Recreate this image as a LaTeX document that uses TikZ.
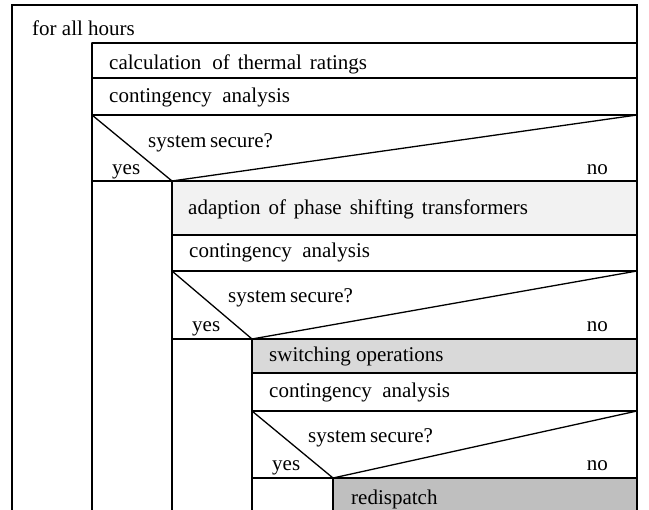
\documentclass[tikz,border=0pt]{standalone}
\usepackage{fontspec}
\setmainfont{Liberation Serif}
\usepackage{tikz}
\usepackage{tkz-euclide}
\usepackage{xcolor}
\definecolor{phaseshade}{HTML}{F2F2F2}
\definecolor{switchshade}{HTML}{D9D9D9}
\definecolor{redispshade}{HTML}{BFBFBF}

\begin{document}
\begin{tikzpicture}[x=1pt,y=-1pt,
    rule/.style={line width=1.3pt,line cap=round,line join=miter},
    txt/.style={anchor=base west,inner sep=0pt,font=\fontsize{21}{25}\selectfont},
    txtr/.style={txt,anchor=base east}]
    \useasboundingbox (0,0) rectangle (649,510);
    \tkzDefPoints{12/5/O1,637/5/O2,12/510/O3,637/510/O4}
    \tkzDefPoints{92/43/A0,92/78/A1,92/115/A2,92/181/A3,92/510/A4}
    \tkzDefPoints{172/181/B0,172/235/B1,172/271/B2,172/339/B3,172/510/B4}
    \tkzDefPoints{252/339/C0,252/373/C1,252/411/C2,252/478/C3,252/510/C4}
    \tkzDefPoints{333/478/D0,333/510/D1}
    \tkzDefPoints{637/43/R0,637/78/R1,637/115/R2,637/181/R3,637/235/R4,637/271/R5,637/339/R6,637/373/R7,637/411/R8,637/478/R9}
    \tkzFillPolygon[fill=phaseshade](B0,R3,R4,B1)
    \tkzFillPolygon[fill=switchshade](C0,R6,R7,C1)
    \tkzFillPolygon[fill=redispshade](D0,R9,O4,D1)
    \tkzDrawPolySeg[rule](O3,O1,O2,O4)
    \tkzDrawSegments[rule](A0,R0 A1,R1 A2,R2 A3,R3 A0,A4)
    \tkzDrawPolySeg[rule](A2,B0,R2)
    \tkzDrawSegments[rule](B0,B4 B1,R4 B2,R5 B3,R6)
    \tkzDrawPolySeg[rule](B2,C0,R5)
    \tkzDrawSegments[rule](C0,C4 C1,R7 C2,R8 C3,R9)
    \tkzDrawPolySeg[rule](C2,D0,R8)
    \tkzDrawSegments[rule](D0,D1)
    \node[txt] (loop) at (32,36) {for all hours};
    \node[txt] (rating) at (109,70) {calculation\hspace{11pt}of\hspace{8pt}thermal\hspace{8pt}ratings};
    \node[txt] (ca1) at (109,103) {contingency\ \ analysis};
    \node[txt] (q1) at (148,148) {system\,secure?};
    \node[txt] (y1) at (112,175) {yes};
    \node[txtr] (n1) at (608,175) {no};
    \node[txt] (pst) at (188,215) {adaption\hspace{8pt}of\hspace{8pt}phase\hspace{8pt}shifting\hspace{8pt}transformers};
    \node[txt] (ca2) at (189,258) {contingency\ \ analysis};
    \node[txt] (q2) at (228,303) {system\,secure?};
    \node[txt] (y2) at (192,332) {yes};
    \node[txtr] (n2) at (608,332) {no};
    \node[txt] (sw) at (269,362) {switching operations};
    \node[txt] (ca3) at (269,398) {contingency\ \ analysis};
    \node[txt] (q3) at (308,443) {system\,secure?};
    \node[txt] (y3) at (272,471) {yes};
    \node[txtr] (n3) at (608,471) {no};
    \node[txt] (rd) at (351,505) {redispatch};
\end{tikzpicture}
\end{document}
